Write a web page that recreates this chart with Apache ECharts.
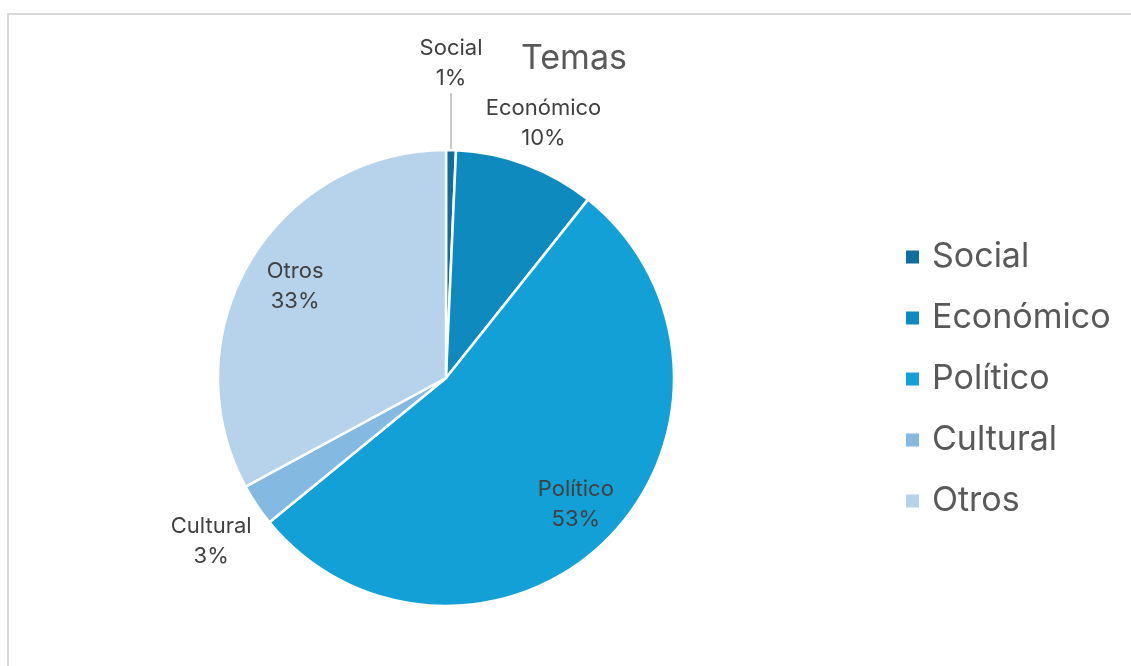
<!DOCTYPE html>
<html>
<head>
<meta charset="utf-8">
<style>
  html, body { margin: 0; padding: 0; background: #ffffff; }
  #chart { width: 1131px; height: 666px; }
</style>
<script src="https://cdn.jsdelivr.net/npm/echarts@6/dist/echarts.min.js"></script>
</head>
<body>
<div id="chart"></div>
<script>
// Topic shares (percent of total)
const categories = ['Social', 'Económico', 'Político', 'Cultural', 'Otros'];
const shares = [0.7, 10.0, 53.4, 3.0, 32.9];
const sliceColors = ['#0e6f9e', '#0f8abf', '#12a0d7', '#84bae2', '#b6d3eb'];
// Where each label sits: beside the slice, inside it, or above it on a leader line
const labelPlacement = ['leader', 'outside', 'inside', 'outside', 'inside'];
// Distance of each label from the centre, as a multiple of the radius
const labelDistance = [1.38, 1.22, 0.8, 1.24, 0.77];

const FONT = 'Inter, "Noto Sans", sans-serif';
const CX = 446, CY = 378, R = 228;

// Mid-angle of every slice, measured clockwise from 12 o'clock
const total = shares.reduce((a, b) => a + b, 0);
const midAngles = [];
let acc = 0;
shares.forEach(v => {
  midAngles.push(((acc + v / 2) / total) * Math.PI * 2);
  acc += v;
});

const chart = echarts.init(document.getElementById('chart'), null, { renderer: 'canvas' });

chart.setOption({
  backgroundColor: '#ffffff',
  animation: false,
  graphic: [{
    type: 'rect',
    shape: { x: 8, y: 14, width: 1200, height: 700 },
    style: { fill: 'none', stroke: '#d9d9d9', lineWidth: 2 },
    silent: true
  }],
  title: {
    text: 'Temas',
    left: 516,
    top: 37,
    textStyle: { fontFamily: FONT, fontSize: 34, fontWeight: 'normal', color: '#595959' }
  },
  legend: {
    orient: 'vertical',
    left: 899,
    top: 234,
    icon: 'rect',
    itemWidth: 15,
    itemHeight: 15,
    itemGap: 25,
    data: categories,
    textStyle: {
      fontFamily: FONT, fontSize: 34, lineHeight: 36, color: '#595959',
      padding: [0, 0, 0, 7]
    }
  },
  series: [{
    type: 'pie',
    center: [CX, CY],
    radius: R,
    startAngle: 90,
    clockwise: true,
    avoidLabelOverlap: false,
    percentPrecision: 0,
    itemStyle: { borderColor: '#ffffff', borderWidth: 2.5 },
    label: {
      show: true,
      position: 'outside',
      formatter: '{b}\n{d}%',
      fontFamily: FONT,
      fontSize: 22,
      lineHeight: 30,
      color: '#404040',
      align: 'center'
    },
    labelLine: { show: false },
    labelLayout: function (params) {
      const i = params.dataIndex;
      const a = midAngles[i];
      const s = Math.sin(a), c = Math.cos(a);
      const r = R * labelDistance[i];
      const kind = labelPlacement[i];
      if (kind === 'inside') {
        return { x: CX + r * s, y: CY - r * c - 2, align: 'center', verticalAlign: 'middle' };
      }
      if (kind === 'outside') {
        return { x: CX + r * s, y: CY - r * c + 6, align: 'center', verticalAlign: 'middle' };
      }
      // leader: label stacked straight above the slice edge
      const ex = CX + R * s, ey = CY - R * c;
      const top = CY - r;
      return {
        x: ex, y: top, align: 'center', verticalAlign: 'middle',
        labelLinePoints: [[ex, ey], [ex, top + 30], [ex, top + 30]]
      };
    },
    data: categories.map((name, i) => ({
      name: name,
      value: shares[i],
      itemStyle: { color: sliceColors[i] },
      labelLine: labelPlacement[i] === 'leader'
        ? { show: true, lineStyle: { color: '#a6a6a6', width: 1.2 } }
        : { show: false }
    }))
  }]
});
</script>
</body>
</html>
